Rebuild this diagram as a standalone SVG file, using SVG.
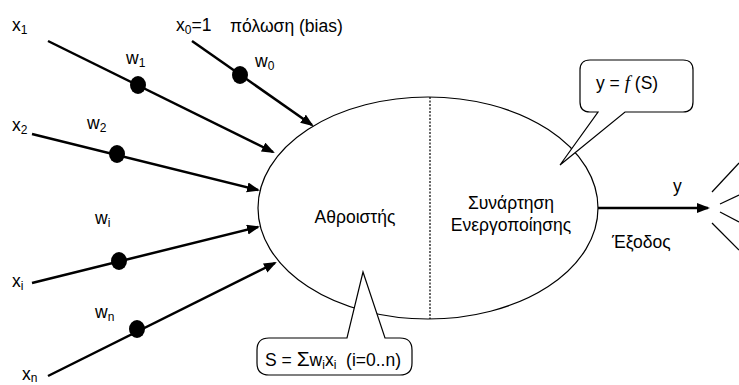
<svg xmlns="http://www.w3.org/2000/svg" width="739" height="385" viewBox="0 0 739 385">
<style>
text{font-family:"Liberation Sans",Arial,sans-serif;font-size:17.5px;fill:#000}
.sub{font-size:12px}
.in{stroke:#000;stroke-width:2.5;fill:none}
.thin{stroke:#000;stroke-width:1.2;fill:none}
.call{stroke:#000;stroke-width:1.2;fill:#fff}
</style>
<defs>
<marker id="ah" markerUnits="userSpaceOnUse" markerWidth="16" markerHeight="12" refX="11" refY="5" orient="auto">
<path d="M0,0 L13,5 L0,10 Z" fill="#000"/>
</marker>
</defs>
<g id="neuron">
<ellipse cx="428" cy="208" rx="170" ry="111" fill="#fff" stroke="#000" stroke-width="1.2"/>
<line x1="430" y1="97" x2="430" y2="319" stroke="#000" stroke-width="1.2" stroke-dasharray="2,1.5"/>
<text x="355" y="223" text-anchor="middle">Αθροιστής</text>
<text x="511" y="209" text-anchor="middle">Συνάρτηση</text>
<text x="511" y="231" text-anchor="middle">Ενεργοποίησης</text>
</g>
<g id="connectors">
<line class="in" x1="48" y1="41" x2="273" y2="152" marker-end="url(#ah)"/>
<line class="in" x1="192" y1="41" x2="312" y2="125" marker-end="url(#ah)"/>
<line class="in" x1="32" y1="134" x2="258" y2="190" marker-end="url(#ah)"/>
<line class="in" x1="32" y1="283" x2="258" y2="227" marker-end="url(#ah)"/>
<line class="in" x1="48" y1="376" x2="275" y2="263" marker-end="url(#ah)"/>
<line class="in" x1="598" y1="208" x2="708" y2="208" marker-end="url(#ah)"/>
</g>
<g id="weights">
<ellipse cx="138" cy="85" rx="8" ry="9"/>
<ellipse cx="240" cy="75" rx="8" ry="9"/>
<ellipse cx="117" cy="154" rx="8" ry="9"/>
<ellipse cx="119" cy="261" rx="8" ry="9"/>
<ellipse cx="137" cy="329" rx="8" ry="9"/>
</g>
<g id="labels">
<text x="12" y="31">x<tspan class="sub" dy="3">1</tspan></text>
<text x="126" y="64">w<tspan class="sub" dy="3">1</tspan></text>
<text x="176" y="31">x<tspan class="sub" dy="3">0</tspan><tspan dy="-3">=1</tspan></text>
<text x="230" y="32">πόλωση (bias)</text>
<text x="255" y="67">w<tspan class="sub" dy="3">0</tspan></text>
<text x="12" y="131">x<tspan class="sub" dy="3">2</tspan></text>
<text x="87" y="129">w<tspan class="sub" dy="3">2</tspan></text>
<text x="95" y="224">w<tspan class="sub" dy="3">i</tspan></text>
<text x="12" y="287">x<tspan class="sub" dy="3">i</tspan></text>
<text x="95" y="318">w<tspan class="sub" dy="3">n</tspan></text>
<text x="22" y="380">x<tspan class="sub" dy="2">n</tspan></text>
<text x="673" y="192">y</text>
<text x="612" y="248">Έξοδος</text>
</g>
<g id="rays">
<line class="thin" x1="712" y1="192" x2="739" y2="163"/>
<line class="thin" x1="720" y1="204" x2="739" y2="195"/>
<line class="thin" x1="720" y1="212" x2="739" y2="222"/>
<line class="thin" x1="712" y1="223" x2="739" y2="250"/>
</g>
<g id="callout-f">
<path class="call" d="M590,60 L683,60 Q693,60 693,70 L693,102 Q693,112 683,112 L625,112 L560,165 L598,112 L590,112 Q580,112 580,102 L580,70 Q580,60 590,60 Z"/>
<text x="596" y="89">y = <tspan font-family="'Liberation Serif',serif" font-style="italic" font-size="19">f</tspan> (S)</text>
</g>
<g id="callout-s">
<path class="call" d="M269,338 L347,338 L363,272 L385,338 L400,338 Q412,338 412,350 L412,363 Q412,375 400,375 L269,375 Q257,375 257,363 L257,350 Q257,338 269,338 Z"/>
<text x="265" y="366">S = <tspan font-size="21">Σ</tspan>w<tspan class="sub" dy="3">i</tspan><tspan dy="-3">x</tspan><tspan class="sub" dy="3">i</tspan><tspan dy="-3" xml:space="preserve">  (i=0..n)</tspan></text>
</g>
</svg>
